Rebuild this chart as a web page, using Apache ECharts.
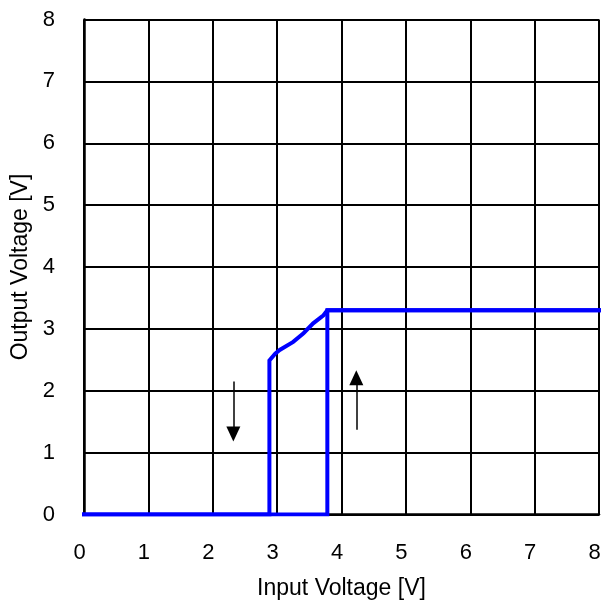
<!DOCTYPE html>
<html>
<head>
<meta charset="utf-8">
<script src="https://cdn.jsdelivr.net/npm/echarts@6/dist/echarts.min.js"></script>
<style>html,body{margin:0;padding:0;background:#fff}#c{width:616px;height:607px}</style>
</head>
<body>
<div id="c"></div>
<script>
// Rising input sweep (output goes high at the upper threshold)
const risingX = [0, 3.78, 3.78, 8];
const risingY = [0, 0, 3.30, 3.30];
// Falling input sweep (output follows down, then drops at the lower threshold)
const fallingX = [8, 3.78, 3.77, 3.72, 3.56, 3.41, 3.25, 3.04, 2.97, 2.88, 2.88, 0];
const fallingY = [3.30, 3.30, 3.28, 3.22, 3.09, 2.93, 2.79, 2.66, 2.60, 2.49, 0, 0];
// Direction arrows: [x, yStart, yEnd]
const arrowDown = [2.32, 2.15, 1.30];
const arrowUp = [4.23, 1.37, 2.21];
const xTicks = ['0','1','2','3','4','5','6','7','8'];
const yTicks = ['0','1','2','3','4','5','6','7','8'];

const pair = (xs, ys) => xs.map((x, i) => [x, ys[i]]);
const font = 'Liberation Sans, Arial, sans-serif';
const chart = echarts.init(document.getElementById('c'), null, {renderer: 'canvas'});
chart.setOption({
  animation: false,
  grid: {left: 84, right: 17, top: 19.5, bottom: 92.5, containLabel: false},
  xAxis: {
    type: 'value', min: 0, max: 8, interval: 1,
    name: 'Input Voltage [V]', nameLocation: 'middle', nameGap: 63,
    nameTextStyle: {fontFamily: font, fontSize: 23, color: '#000'},
    axisLine: {show: true, lineStyle: {color: '#000', width: 2.5}},
    axisTick: {show: false},
    axisLabel: {fontFamily: font, fontSize: 22, color: '#000', margin: 27,
      formatter: v => xTicks[Math.round(v)] + '{g|}',
      rich: {g: {width: 9}}},
    splitLine: {show: true, lineStyle: {color: '#000', width: 2}}
  },
  yAxis: {
    type: 'value', min: 0, max: 8, interval: 1,
    name: 'Output Voltage [V]', nameLocation: 'middle', nameGap: 49, nameRotate: 90,
    nameTextStyle: {fontFamily: font, fontSize: 23, color: '#000'},
    axisLine: {show: true, lineStyle: {color: '#000', width: 2.5}},
    axisTick: {show: false},
    axisLabel: {fontFamily: font, fontSize: 22, color: '#000', margin: 29,
      formatter: v => yTicks[Math.round(v)]},
    splitLine: {show: true, lineStyle: {color: '#000', width: 2}}
  },
  series: [
    {type: 'line', data: pair(risingX, risingY), showSymbol: false,
      lineStyle: {color: '#0000ff', width: 4, cap: 'square', join: 'miter'}},
    {type: 'line', data: pair(fallingX, fallingY), showSymbol: false,
      lineStyle: {color: '#0000ff', width: 4, cap: 'square', join: 'miter'},
      markLine: {
        silent: true, symbol: ['none', 'triangle'], symbolSize: [14, 15],
        label: {show: false},
        lineStyle: {color: '#000', width: 1.5, type: 'solid'},
        itemStyle: {color: '#000'},
        data: [
          [{coord: [arrowDown[0], arrowDown[1]]}, {coord: [arrowDown[0], arrowDown[2]]}],
          [{coord: [arrowUp[0], arrowUp[1]]}, {coord: [arrowUp[0], arrowUp[2]]}]
        ]
      }}
  ]
});
</script>
</body>
</html>
